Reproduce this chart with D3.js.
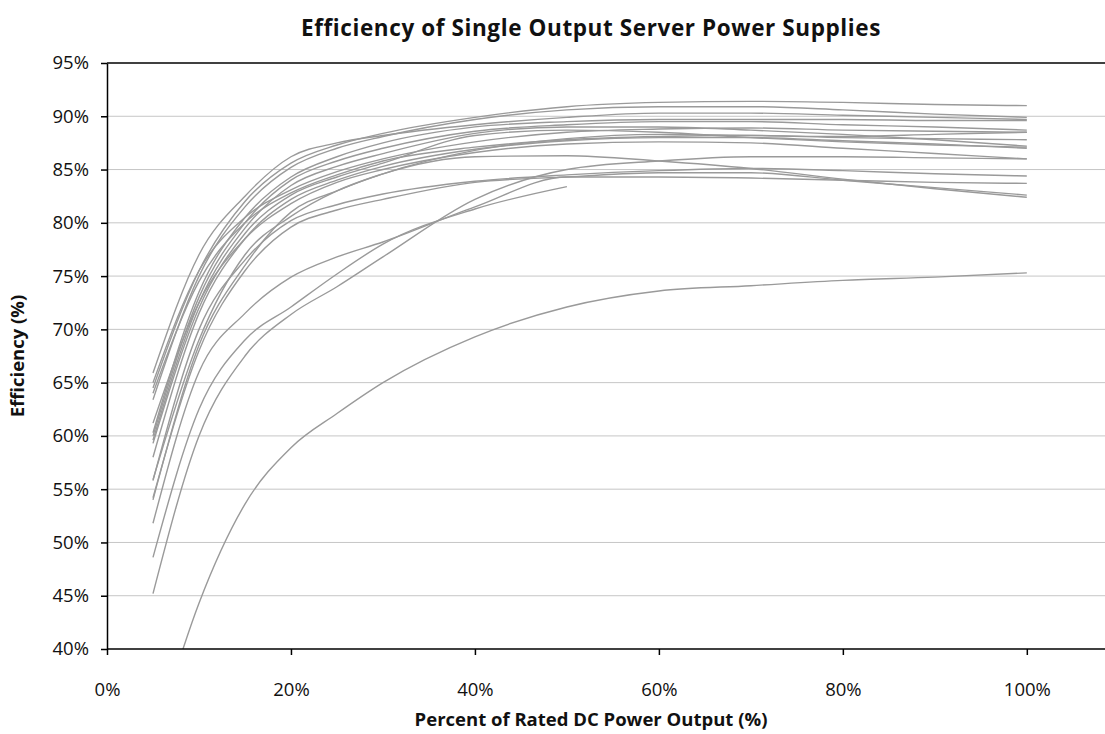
<!DOCTYPE html>
<html lang="en">

<head>
	<meta charset="utf-8">
	<title>Efficiency of Single Output Server Power Supplies</title>
	<style>
		body {
			margin: 0;
			background: #fff;
			font-family: "Open Sans", sans-serif;
		}

		.grid line {
			stroke: #c6c6c6;
			stroke-width: 1px;
		}

		.axis text {
			font-size: 18.5px;
			fill: #111;
		}

		.axis path,
		.axis line {
			stroke: #000;
			stroke-width: 1.5px;
		}

		.supplies path {
			fill: none;
			stroke: #9a9a9a;
			stroke-width: 1.4px;
		}
	</style>
</head>

<body>
	<svg></svg>

	<script src="https://cdn.jsdelivr.net/npm/d3@7"></script>
	<script>
		// load points (% of rated DC output) shared by all supplies
		var loadPoints = [5, 10, 15, 20, 25, 30, 40, 50, 60, 70, 80, 90, 100];

		// efficiency (%) of each supply at the load points above
		var psu01 = [64.5, 75.5, 82.0, 85.6, 87.3, 88.4, 89.9, 90.9, 91.3, 91.4, 91.3, 91.1, 91.0];
		var psu02 = [63.4, 75.0, 81.5, 85.2, 87.0, 88.1, 89.7, 90.6, 90.9, 90.9, 90.6, 90.2, 89.9];
		var psu03 = [65.9, 77.0, 82.5, 86.2, 87.5, 88.2, 89.2, 89.9, 90.3, 90.3, 90.1, 89.9, 89.7];
		var psu04 = [60.3, 73.5, 80.5, 84.3, 86.2, 87.5, 89.0, 89.5, 89.7, 89.7, 89.7, 89.6, 89.6];
		var psu05 = [60.0, 73.0, 80.0, 84.0, 85.8, 87.0, 88.6, 89.2, 89.5, 89.5, 89.2, 89.0, 88.7];
		var psu06 = [65.0, 75.5, 80.5, 83.1, 84.8, 86.0, 87.6, 88.5, 88.8, 88.9, 88.7, 88.6, 88.5];
		var psu07 = [59.6, 72.5, 79.5, 83.5, 85.3, 86.5, 88.4, 89.0, 89.0, 88.7, 88.3, 87.8, 87.2];
		var psu08 = [64.0, 74.5, 80.0, 82.8, 84.5, 85.8, 87.1, 87.8, 88.1, 88.2, 88.0, 87.9, 87.8];
		var psu09 = [59.3, 72.0, 79.0, 82.6, 84.3, 85.6, 88.2, 88.7, 88.5, 88.0, 87.6, 87.3, 87.1];
		var psu10 = [58.0, 71.5, 78.5, 82.2, 84.0, 85.3, 86.9, 87.7, 88.0, 88.0, 87.7, 87.4, 87.0];
		var psu11 = [61.2, 72.5, 78.5, 81.8, 83.8, 85.0, 86.6, 87.4, 87.6, 87.5, 87.0, 86.5, 86.0];
		var psu12 = [55.9, 69.0, 77.0, 80.6, 83.0, 84.6, 86.8, 87.9, 88.3, 88.2, 88.1, 88.3, 88.5];
		var psu13 = [54.0, 68.5, 76.0, 81.0, 83.0, 84.6, 86.2, 86.3, 85.8, 85.1, 84.1, 83.2, 82.4];
		var psu14 = [55.8, 70.0, 76.5, 80.2, 81.7, 82.7, 83.9, 84.5, 84.9, 85.1, 84.9, 84.6, 84.4];
		var psu15 = [54.2, 68.0, 75.5, 79.6, 81.2, 82.2, 83.8, 84.3, 84.7, 84.7, 84.0, 83.3, 82.6];
		var psu16 = [51.8, 66.0, 71.5, 74.9, 76.8, 78.2, 81.5, 84.3, 84.3, 84.2, 84.0, 83.8, 83.7];
		var psu17 = [48.6, 62.5, 69.0, 72.1, 75.2, 78.0, 81.3, 83.4, null, null, null, null, null];
		var psu18 = [45.2, 60.0, 67.5, 71.4, 74.0, 76.8, 82.2, 85.0, 85.8, 86.2, 86.2, 86.1, 86.0];
		var psu19 = [31.0, 44.3, 53.6, 58.9, 62.1, 65.0, 69.3, 72.1, 73.6, 74.1, 74.6, 74.9, 75.3];

		var supplies = [psu01, psu02, psu03, psu04, psu05, psu06, psu07, psu08, psu09, psu10,
			psu11, psu12, psu13, psu14, psu15, psu16, psu17, psu18, psu19];

		var xTicks = [0, 20, 40, 60, 80, 100];
		var yTicks = [40, 45, 50, 55, 60, 65, 70, 75, 80, 85, 90, 95];

		(function() {

			var width = 1105,
				height = 734;

			var plot = { left: 107, right: 1105, top: 63, bottom: 649 };

			var svg = d3.select("svg")
				.attr("width", width)
				.attr("height", height);

			var x = d3.scaleLinear()
				.domain([0, 108.5])
				.range([plot.left, plot.right]);

			var y = d3.scaleLinear()
				.domain([40, 95])
				.range([plot.bottom, plot.top]);

			svg.append("defs").append("clipPath")
				.attr("id", "plot-clip")
				.append("rect")
				.attr("x", plot.left)
				.attr("y", plot.top)
				.attr("width", plot.right - plot.left)
				.attr("height", plot.bottom - plot.top);

			// horizontal gridlines
			svg.append("g")
				.attr("class", "grid")
				.selectAll("line")
				.data(yTicks.filter(function(d) { return d > 40 && d < 95; }))
				.enter().append("line")
				.attr("x1", plot.left)
				.attr("x2", plot.right)
				.attr("y1", function(d) { return y(d); })
				.attr("y2", function(d) { return y(d); });

			var line = d3.line()
				.defined(function(d) { return d != null; })
				.x(function(d, i) { return x(loadPoints[i]); })
				.y(function(d) { return y(d); })
				.curve(d3.curveMonotoneX);

			svg.append("g")
				.attr("class", "supplies")
				.attr("clip-path", "url(#plot-clip)")
				.selectAll("path")
				.data(supplies)
				.enter().append("path")
				.attr("d", line);

			// top border of the plot frame
			svg.append("line")
				.attr("x1", plot.left)
				.attr("x2", plot.right)
				.attr("y1", plot.top)
				.attr("y2", plot.top)
				.attr("stroke", "#000")
				.attr("stroke-width", 1.5);

			var fmt = function(d) { return d + "%"; };

			svg.append("g")
				.attr("class", "axis")
				.attr("transform", "translate(0," + plot.bottom + ")")
				.call(d3.axisBottom(x).tickValues(xTicks).tickFormat(fmt).tickSize(6).tickSizeOuter(0).tickPadding(28))
				.call(function(g) {
					g.select(".domain").attr("d", "M" + plot.left + ",0H" + plot.right);
				});

			svg.append("g")
				.attr("class", "axis")
				.attr("transform", "translate(" + plot.left + ",0)")
				.call(d3.axisLeft(y).tickValues(yTicks).tickFormat(fmt).tickSize(6).tickSizeOuter(0).tickPadding(12));

			svg.selectAll(".axis .tick text").attr("font-family", "Open Sans, sans-serif");

			// titles
			svg.append("text")
				.attr("x", 591)
				.attr("y", 36)
				.attr("text-anchor", "middle")
				.attr("font-size", 22.5)
				.attr("font-weight", "bold")
				.attr("letter-spacing", 0.6)
				.attr("fill", "#111")
				.text("Efficiency of Single Output Server Power Supplies");

			svg.append("text")
				.attr("x", 591)
				.attr("y", 726)
				.attr("text-anchor", "middle")
				.attr("font-size", 18.5)
				.attr("font-weight", "bold")
				.attr("fill", "#111")
				.text("Percent of Rated DC Power Output (%)");

			svg.append("text")
				.attr("transform", "translate(24,356) rotate(-90)")
				.attr("text-anchor", "middle")
				.attr("font-size", 18.5)
				.attr("font-weight", "bold")
				.attr("fill", "#111")
				.text("Efficiency (%)");

		})();
	</script>
</body>

</html>
